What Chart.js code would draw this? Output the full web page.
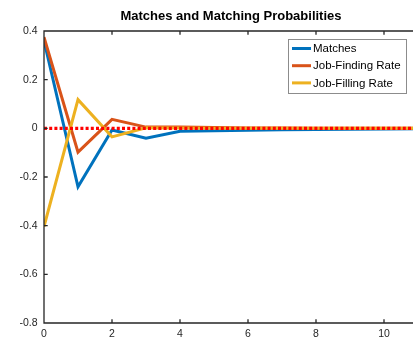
<!DOCTYPE html>
<html>
<head>
  <title>Matches and Matching Probabilities</title>
  <script src="https://cdn.jsdelivr.net/npm/chart.js"></script>
  <style>
    body {
      margin: 0;
      background-color: #fff;
      overflow: hidden;
    }
    #wrap {
      width: 430px;
      height: 344px;
    }
  </style>
</head>
<body>
  <div id="wrap"><canvas id="irfChart" width="430" height="344"></canvas></div>

  <script>
    // periods and impulse responses
    const periods = [0, 1, 2, 3, 4, 5, 6, 7, 8, 9, 10, 11];
    const matches = [0.36, -0.24, -0.007, -0.041, -0.012, -0.010, -0.008, -0.006, -0.005, -0.004, -0.003, -0.002];
    const jobFinding = [0.375, -0.098, 0.037, 0.005, 0.005, 0.003, 0.001, 0.001, 0, 0, 0, 0];
    const jobFilling = [-0.404, 0.118, -0.035, 0.002, 0.001, 0, 0, 0, 0, 0, 0, 0];
    const zeroX = [0, 11];
    const zeroY = [0, 0];
    const xTicks = [0, 2, 4, 6, 8, 10];
    const yTicks = [-0.8, -0.6, -0.4, -0.2, 0, 0.2, 0.4];
    const seriesNames = ['Matches', 'Job-Finding Rate', 'Job-Filling Rate'];

    const toPoints = (xs, ys) => xs.map((x, i) => ({ x: x, y: ys[i] }));

    const axisColor = '#262626';
    const fontFam = '"Liberation Sans", Arial, Helvetica, sans-serif';

    // matlab-ish box, inward ticks, title and legend
    const matlabAxes = {
      id: 'matlabAxes',
      afterDatasetsDraw(chart) {
        const ctx = chart.ctx;
        const a = chart.chartArea;
        const xs = chart.scales.x;
        const ys = chart.scales.y;
        const tl = 3.7;
        ctx.save();
        ctx.strokeStyle = axisColor;
        ctx.lineWidth = 1.3;
        ctx.beginPath();
        ctx.rect(a.left, a.top, a.right - a.left, a.bottom - a.top);
        xTicks.forEach(v => {
          const px = xs.getPixelForValue(v);
          ctx.moveTo(px, a.bottom); ctx.lineTo(px, a.bottom - tl);
          ctx.moveTo(px, a.top); ctx.lineTo(px, a.top + tl);
        });
        yTicks.forEach(v => {
          const py = ys.getPixelForValue(v);
          ctx.moveTo(a.left, py); ctx.lineTo(a.left + tl, py);
          ctx.moveTo(a.right, py); ctx.lineTo(a.right - tl, py);
        });
        ctx.stroke();

        // title
        ctx.fillStyle = '#000';
        ctx.font = 'bold 13px ' + fontFam;
        ctx.textAlign = 'center';
        ctx.textBaseline = 'middle';
        ctx.fillText('Matches and Matching Probabilities', (a.left + a.right) / 2, 16);

        // legend
        const bx = 288.5, by = 39.5, bw = 118, bh = 54;
        ctx.fillStyle = '#fff';
        ctx.fillRect(bx, by, bw, bh);
        ctx.strokeStyle = '#8c8c8c';
        ctx.lineWidth = 1;
        ctx.strokeRect(bx, by, bw, bh);
        ctx.font = '11.5px ' + fontFam;
        ctx.textAlign = 'left';
        seriesNames.forEach((name, i) => {
          const ds = chart.data.datasets[i];
          const ly = 48.5 + i * 17.2;
          ctx.strokeStyle = ds.borderColor;
          ctx.lineWidth = 3;
          ctx.beginPath();
          ctx.moveTo(292, ly);
          ctx.lineTo(311, ly);
          ctx.stroke();
          ctx.fillStyle = '#000';
          ctx.fillText(name, 313, ly + 0.5);
        });
        ctx.restore();
      }
    };

    const ctx = document.getElementById('irfChart').getContext('2d');
    new Chart(ctx, {
      type: 'line',
      data: {
        datasets: [
          { label: seriesNames[0], data: toPoints(periods, matches), borderColor: '#0072BD', order: 3 },
          { label: seriesNames[1], data: toPoints(periods, jobFinding), borderColor: '#D95319', order: 2 },
          { label: seriesNames[2], data: toPoints(periods, jobFilling), borderColor: '#EDB120', order: 1 },
          { label: 'zero', data: toPoints(zeroX, zeroY), borderColor: '#ff0000', borderWidth: 3.2, borderDash: [3, 2.2], order: 0 }
        ]
      },
      options: {
        responsive: false,
        animation: false,
        events: [],
        layout: { padding: { top: 31, right: 12, left: 0, bottom: 0 } },
        elements: {
          line: { borderWidth: 3, tension: 0, fill: false },
          point: { radius: 0 }
        },
        plugins: {
          legend: { display: false },
          title: { display: false },
          tooltip: { enabled: false }
        },
        scales: {
          x: {
            type: 'linear',
            min: 0,
            max: 11,
            grid: { display: false, drawTicks: false },
            border: { display: false },
            afterFit: s => { s.height = 21; },
            afterBuildTicks: s => { s.ticks = xTicks.map(v => ({ value: v })); },
            ticks: {
              includeBounds: false,
              padding: 5,
              color: axisColor,
              font: { size: 10.5, family: fontFam },
              maxRotation: 0,
              callback: v => String(v)
            }
          },
          y: {
            type: 'linear',
            min: -0.8,
            max: 0.4,
            grid: { display: false, drawTicks: false },
            border: { display: false },
            afterFit: s => { s.width = 44; },
            afterBuildTicks: s => { s.ticks = yTicks.map(v => ({ value: v })); },
            ticks: {
              padding: 6.5,
              color: axisColor,
              font: { size: 10.5, family: fontFam },
              callback: v => (Math.abs(v) < 1e-9 ? '0' : String(Math.round(v * 10) / 10))
            }
          }
        }
      },
      plugins: [matlabAxes]
    });
  </script>
</body>
</html>
